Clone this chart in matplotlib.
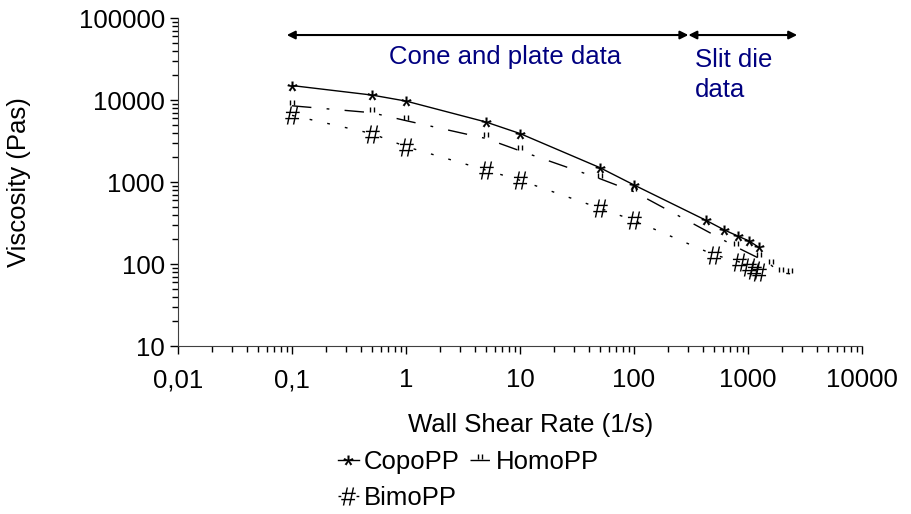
import matplotlib.pyplot as plt
import matplotlib.ticker as mticker
from matplotlib.path import Path
import numpy as np

# data
copo_x = [0.1, 0.5, 1, 5, 10, 50, 100, 430, 620, 810, 1030, 1240]
copo_y = [15000, 11500, 9700, 5400, 3900, 1500, 920, 340, 260, 220, 190, 160]

homo_x = [0.1, 0.5, 1, 5, 10, 50, 100, 790, 1240, 1590, 1950, 2340]
homo_y = [8500, 7000, 5600, 3400, 2400, 1100, 760, 161, 118, 97, 78, 76]

bimo_x = [0.1, 0.5, 1, 5, 10, 50, 100, 500, 840, 1030, 1140, 1240]
bimo_y = [6500, 3900, 2700, 1400, 1050, 480, 340, 130, 106, 92, 84, 80]

x_ticks = [0.01, 0.1, 1, 10, 100, 1000, 10000]
x_labels = ["0,01", "0,1", "1", "10", "100", "1000", "10000"]
y_ticks = [10, 100, 1000, 10000, 100000]
y_labels = ["10", "100", "1000", "10000", "100000"]

plt.rcParams['font.family'] = ['Liberation Sans', 'DejaVu Sans']
plt.rcParams['mathtext.fontset'] = 'custom'
plt.rcParams['mathtext.rm'] = 'Liberation Sans'
plt.rcParams['mathtext.it'] = 'Liberation Sans'

# double quote marker: two short vertical strokes
quote = Path([(-0.35, 0.1), (-0.35, 1.0), (0.35, 0.1), (0.35, 1.0)],
             [Path.MOVETO, Path.LINETO, Path.MOVETO, Path.LINETO])

fig = plt.figure(figsize=(9.12, 5.14), dpi=100)
ax = fig.add_axes([178 / 912, 1 - 346 / 514, (862 - 178) / 912, (346 - 18) / 514])

ax.plot(copo_x, copo_y, color='black', lw=1, marker='$*$', ms=7, mew=0.2,
        label='CopoPP')
ax.plot(homo_x, homo_y, color='black', lw=1, dashes=(14, 11, 2, 11),
        marker=quote, ms=8, mew=1.0, label='HomoPP')
ax.plot(bimo_x, bimo_y, color='black', lw=1, dashes=(2, 11),
        marker='$\\#$', ms=13, mew=0, label='BimoPP')

ax.set_xscale('log')
ax.set_yscale('log')
ax.set_xlim(0.01, 10000)
ax.set_ylim(10, 100000)

ax.xaxis.set_major_locator(mticker.FixedLocator(x_ticks))
ax.xaxis.set_major_formatter(mticker.FixedFormatter(x_labels))
ax.yaxis.set_major_locator(mticker.FixedLocator(y_ticks))
ax.yaxis.set_major_formatter(mticker.FixedFormatter(y_labels))
ax.xaxis.set_minor_locator(mticker.LogLocator(base=10, subs=np.arange(2, 10)))
ax.yaxis.set_minor_locator(mticker.LogLocator(base=10, subs=np.arange(2, 10)))
ax.xaxis.set_minor_formatter(mticker.NullFormatter())
ax.yaxis.set_minor_formatter(mticker.NullFormatter())

ax.tick_params(which='major', length=6, width=1, labelsize=18.5, direction='out')
ax.tick_params(which='minor', length=4, width=1, direction='out')
ax.tick_params(axis='x', pad=10)

for side in ['top', 'right']:
    ax.spines[side].set_visible(False)
for side in ['left', 'bottom']:
    ax.spines[side].set_color('#404040')

ax.set_xlabel('Wall Shear Rate (1/s)', fontsize=18.5)
ax.xaxis.set_label_coords(0.515, -0.205)
ax.set_ylabel('Viscosity (Pas)', fontsize=18.5)
ax.yaxis.set_label_coords(-0.215, 0.5)

# range arrows and annotations
arrow_y = 62000
ax.annotate('', xy=(0.09, arrow_y), xytext=(300, arrow_y),
            arrowprops=dict(arrowstyle='<|-|>', color='black', lw=1.5,
                            mutation_scale=12, shrinkA=0, shrinkB=0))
ax.annotate('', xy=(300, arrow_y), xytext=(2700, arrow_y),
            arrowprops=dict(arrowstyle='<|-|>', color='black', lw=1.5,
                            mutation_scale=12, shrinkA=0, shrinkB=0))
ax.text((505 - 178) / 684, 1 - (57 - 18) / 328, 'Cone and plate data',
        transform=ax.transAxes, ha='center', va='center', fontsize=18.5,
        color='#000080')
ax.text((695 - 178) / 684, 1 - (60 - 18) / 328, 'Slit die', transform=ax.transAxes,
        ha='left', va='center', fontsize=18.5, color='#000080')
ax.text((695 - 178) / 684, 1 - (90 - 18) / 328, 'data', transform=ax.transAxes,
        ha='left', va='center', fontsize=18.5, color='#000080')

h, l = ax.get_legend_handles_labels()
order = [0, 2, 1]
fig.legend([h[i] for i in order], [l[i] for i in order], ncol=2, frameon=False,
           fontsize=18.5, loc='upper left', bbox_to_anchor=(338 / 912, 1 - 450 / 514),
           borderpad=0, borderaxespad=0, handlelength=0.8, handletextpad=0.2,
           columnspacing=0.4, labelspacing=0.45)

fig.savefig('out.png', dpi=100)
